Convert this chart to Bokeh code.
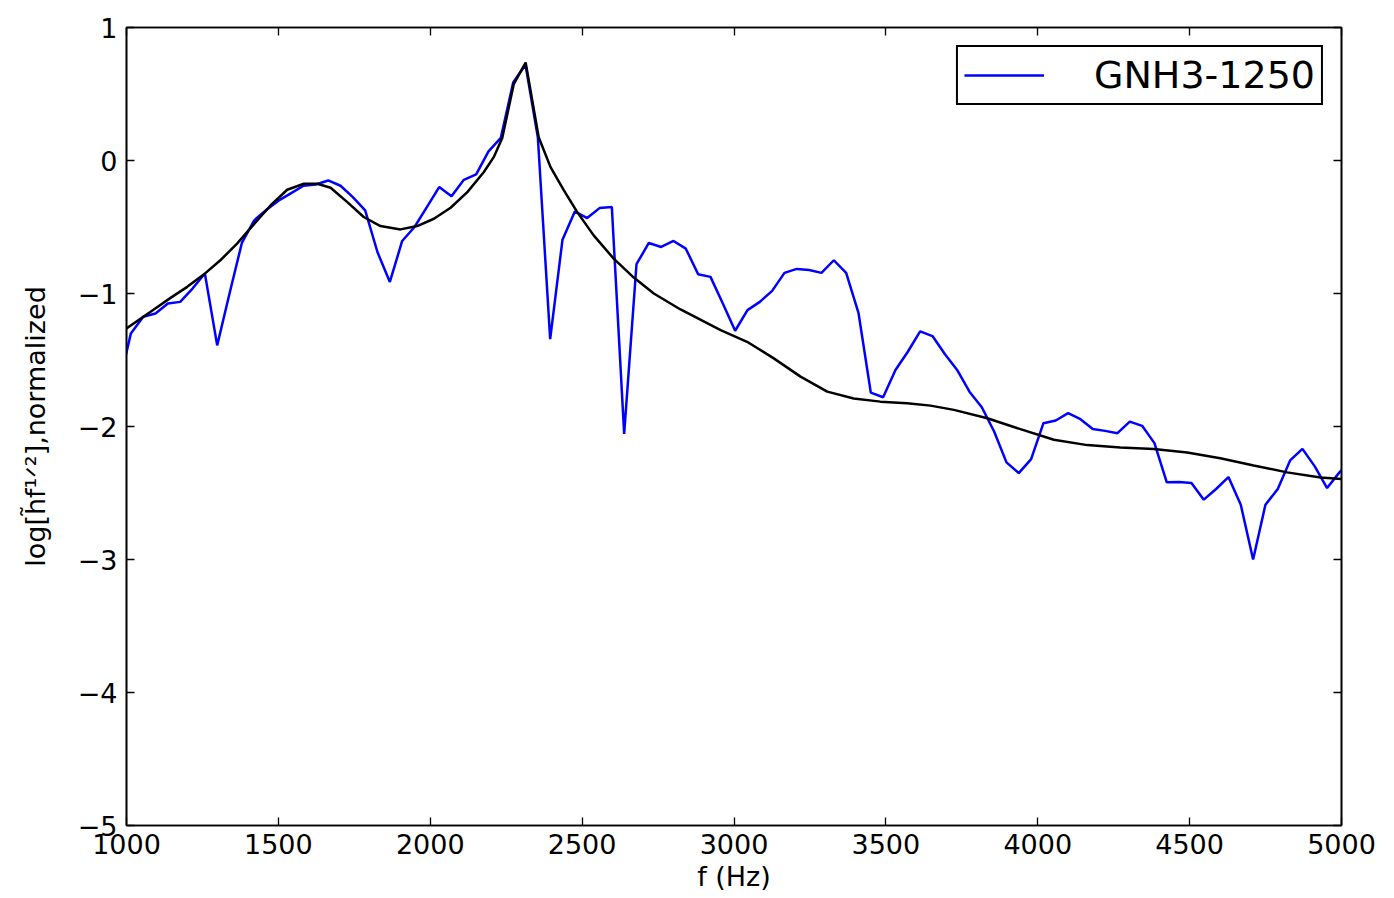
from bokeh.plotting import figure
from bokeh.models import (Range1d, FixedTicker, LinearAxis, Legend, LegendItem,
                          CustomJSTickFormatter)
from bokeh.embed import file_html
from bokeh.resources import INLINE

# ---- data -------------------------------------------------------------
series_label = "GNH3-1250"

freq_hz = [973.8, 1014.4, 1055.0, 1095.6, 1136.2, 1176.8, 1217.4, 1258.0, 1298.6, 1339.2,
           1379.8, 1420.4, 1461.0, 1501.6, 1542.2, 1582.8, 1623.4, 1664.0, 1704.6, 1745.2,
           1785.8, 1826.4, 1867.0, 1907.6, 1948.2, 1988.8, 2029.4, 2070.0, 2110.6, 2151.2,
           2191.8, 2232.4, 2273.0, 2313.6, 2354.2, 2394.8, 2435.4, 2476.0, 2516.6, 2557.2,
           2597.8, 2638.4, 2679.0, 2719.6, 2760.2, 2800.8, 2841.4, 2882.0, 2922.6, 2963.2,
           3003.8, 3044.4, 3085.0, 3125.6, 3166.2, 3206.8, 3247.4, 3288.0, 3328.6, 3369.2,
           3409.8, 3450.4, 3491.0, 3531.6, 3572.2, 3612.8, 3653.4, 3694.0, 3734.6, 3775.2,
           3815.8, 3856.4, 3897.0, 3937.6, 3978.2, 4018.8, 4059.4, 4100.0, 4140.6, 4181.2,
           4221.8, 4262.4, 4303.0, 4343.6, 4384.2, 4424.8, 4465.4, 4506.0, 4546.6, 4587.2,
           4627.8, 4668.4, 4709.0, 4749.6, 4790.2, 4830.8, 4871.4, 4912.0, 4952.6, 4993.2,
           5033.8]

gnh3_values = [-1.70, -1.30, -1.175, -1.15, -1.075, -1.063, -0.963, -0.85, -1.39, -1.00,
               -0.62, -0.45, -0.37, -0.30, -0.245, -0.19, -0.18, -0.15, -0.19, -0.275,
               -0.375, -0.69, -0.913, -0.605, -0.50, -0.35, -0.20, -0.268, -0.145, -0.105,
               0.068, 0.17, 0.587, 0.72, 0.175, -1.343, -0.595, -0.383, -0.433, -0.358,
               -0.35, -2.055, -0.78, -0.62, -0.65, -0.605, -0.663, -0.855, -0.875, -1.075,
               -1.28, -1.125, -1.063, -0.98, -0.845, -0.815, -0.823, -0.845, -0.75, -0.845,
               -1.145, -1.745, -1.78, -1.575, -1.438, -1.285, -1.32, -1.455, -1.575, -1.738,
               -1.855, -2.038, -2.27, -2.35, -2.245, -1.975, -1.955, -1.90, -1.945, -2.018,
               -2.033, -2.05, -1.963, -1.995, -2.125, -2.42, -2.418, -2.425, -2.55, -2.47,
               -2.38, -2.588, -3.00, -2.588, -2.47, -2.255, -2.168, -2.30, -2.463, -2.345,
               -2.25]

model_freq_hz = [1000, 1046, 1090, 1145, 1200, 1254, 1309, 1364, 1419, 1474,
                 1529, 1584, 1628, 1672, 1727, 1781, 1836, 1902, 1957, 2012,
                 2067, 2122, 2176, 2209, 2237, 2275, 2314, 2357, 2396, 2440,
                 2484, 2538, 2604, 2670, 2736, 2824, 2956, 3043, 3131, 3219,
                 3307, 3394, 3482, 3570, 3647, 3724, 3834, 3943, 4053, 4163,
                 4272, 4382, 4492, 4601, 4711, 4821, 4931, 5000]

model_values = [-1.263, -1.19, -1.12, -1.033, -0.95, -0.858, -0.75, -0.625, -0.48, -0.338,
                -0.22, -0.175, -0.175, -0.205, -0.313, -0.425, -0.493, -0.518, -0.493, -0.438,
                -0.355, -0.238, -0.088, 0.025, 0.17, 0.575, 0.737, 0.175, -0.05, -0.225,
                -0.388, -0.563, -0.738, -0.88, -1.0, -1.12, -1.275, -1.363, -1.488, -1.625,
                -1.738, -1.79, -1.813, -1.825, -1.843, -1.875, -1.938, -2.02, -2.10, -2.14,
                -2.158, -2.17, -2.195, -2.238, -2.293, -2.345, -2.383, -2.395]

x_ticks = [1000, 1500, 2000, 2500, 3000, 3500, 4000, 4500, 5000]
y_ticks = [-5, -4, -3, -2, -1, 0, 1]

x_label = "f (Hz)"
y_label = "log[h\u0303f\u00b9\u141f\u00b2],normalized"

# ---- figure -----------------------------------------------------------
FONT = "DejaVu Sans"
TICK_SIZE = "27px"

p = figure(width=1390, height=898, output_backend="svg", toolbar_location=None,
           x_range=Range1d(1000, 5000), y_range=Range1d(-5, 1),
           min_border_left=126, min_border_right=49, min_border_top=27,
           min_border_bottom=73)
p.background_fill_color = "white"
p.border_fill_color = "white"
p.outline_line_color = "black"
p.outline_line_width = 1.6
p.outline_line_alpha = 1.0
p.xgrid.visible = False
p.ygrid.visible = False

minus_fmt = CustomJSTickFormatter(code="return tick < 0 ? '\u2212' + Math.abs(tick) : String(tick);")
blank_fmt = CustomJSTickFormatter(code="return '';")


def style_axis(ax, show_labels):
    ax.major_tick_in = 8
    ax.major_tick_out = 0
    ax.minor_tick_in = 0
    ax.minor_tick_out = 0
    ax.major_tick_line_color = "black"
    ax.major_tick_line_width = 1.3
    ax.axis_line_color = "black"
    ax.axis_line_width = 1.6
    ax.major_label_text_font = FONT
    ax.major_label_text_font_size = TICK_SIZE
    ax.major_label_text_color = "black"
    ax.axis_label_text_font = FONT
    ax.axis_label_text_font_size = TICK_SIZE
    ax.axis_label_text_font_style = "normal"
    ax.axis_label_text_color = "black"
    if not show_labels:
        ax.formatter = blank_fmt
        ax.major_label_standoff = 0


xax = p.xaxis[0]
yax = p.yaxis[0]
xax.ticker = FixedTicker(ticks=x_ticks, minor_ticks=[])
yax.ticker = FixedTicker(ticks=y_ticks, minor_ticks=[])
yax.formatter = minus_fmt
style_axis(xax, True)
style_axis(yax, True)
xax.axis_label = x_label
yax.axis_label = y_label
xax.major_label_standoff = 8
xax.axis_label_standoff = 4
yax.major_label_standoff = 9
yax.axis_label_standoff = 24

top_ax = LinearAxis(ticker=FixedTicker(ticks=x_ticks, minor_ticks=[]))
right_ax = LinearAxis(ticker=FixedTicker(ticks=y_ticks, minor_ticks=[]))
style_axis(top_ax, False)
style_axis(right_ax, False)
p.add_layout(top_ax, "above")
p.add_layout(right_ax, "right")

blue_r = p.line(freq_hz, gnh3_values, line_color="#0000ff", line_width=2.5)
p.line(model_freq_hz, model_values, line_color="black", line_width=2.5)

legend = Legend(items=[LegendItem(label=series_label, renderers=[blue_r])],
                location="top_right")
legend.margin = 18
legend.padding = 6
legend.glyph_width = 80
legend.glyph_height = 40
legend.label_standoff = 50
legend.label_text_font = FONT
legend.label_text_font_size = "38px"
legend.label_text_color = "black"
legend.border_line_color = "black"
legend.border_line_width = 2
legend.border_line_alpha = 1.0
legend.background_fill_color = "white"
legend.background_fill_alpha = 1.0
p.add_layout(legend)

open("out.html", "w").write(file_html(p, INLINE))
